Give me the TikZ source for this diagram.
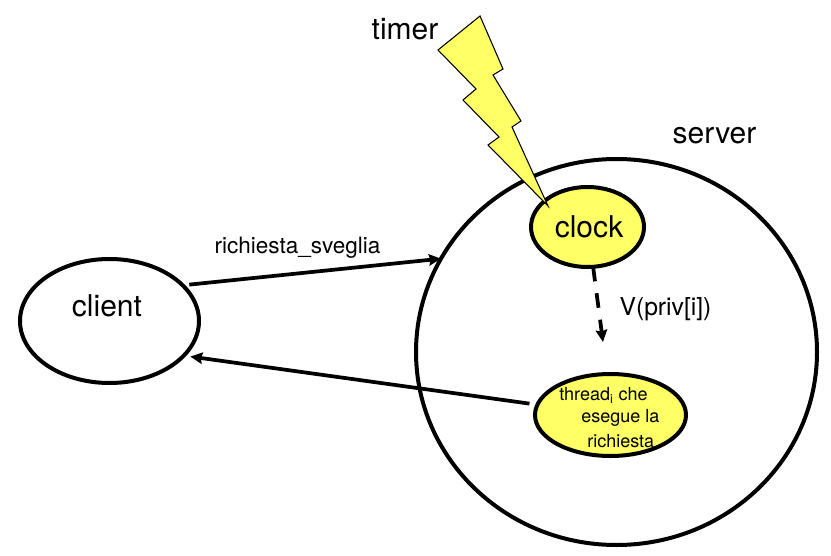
\documentclass[tikz,border=0pt]{standalone}
\usepackage{fontspec}
\setmainfont{TeX Gyre Heros}
\usetikzlibrary{shapes.geometric,arrows.meta}
\definecolor{boltYellow}{RGB}{255,255,102}
\tikzset{
    bubble/.style={draw, ellipse, line width=3pt, inner sep=0pt, outer sep=0pt},
    yellowBubble/.style={bubble, fill=boltYellow},
    msgArrow/.style={line width=2.8pt, -{Stealth[length=9pt,width=8.5pt,inset=1pt]}},
    bigLabel/.style={font=\fontsize{22.5}{24}\selectfont, inner sep=0pt},
    threadLabel/.style={font=\fontsize{13.5}{15}\selectfont, inner sep=0pt}
}
\begin{document}
\begin{tikzpicture}[x=0.75pt,y=-0.75pt]
	\useasboundingbox (0,0) rectangle (831,556);
	\node[bubble, minimum width=134.25pt, minimum height=93pt] (client) at (109.5,321) {};
	\node[bubble, minimum width=300.75pt, minimum height=289.5pt] (server) at (616.5,352) {};
	\node[yellowBubble, minimum width=84.75pt, minimum height=60pt] (clock) at (587.5,227) {};
	\node[yellowBubble, minimum width=113.25pt, minimum height=61.5pt] (thread) at (610.5,415) {};
	% saetta
	\draw[fill=boltYellow, line width=0.8pt, line join=miter] (480,16) -- (503,69) -- (493,75) -- (521,121) -- (512,127) -- (548,206) -- (488,145) -- (499,137) -- (463,100) -- (476,89) -- (438,50) -- cycle;
	\node[bigLabel] (timerLabel) at (405,29) {timer};
	\node[bigLabel] (serverLabel) at (714.5,135.5) {server};
	\node[bigLabel] (clockLabel) at (589,226.5) {clock};
	\node[bigLabel] (clientLabel) at (107,306) {client};
	\node[font=\fontsize{16.9}{18}\selectfont, inner sep=0pt] (sveglia) at (297.5,248) {richiesta\_sveglia};
	\node[font=\fontsize{18.5}{20}\selectfont, inner sep=0pt] (privLabel) at (665.5,309) {V(priv[i])};
	\node[threadLabel, anchor=west] (threadA) at (559,395) {thread\textsubscript{i} che};
	\node[threadLabel, anchor=west] (threadB) at (581,418) {esegue la};
	\node[threadLabel, anchor=west] (threadC) at (587,441) {richiesta};
	\coordinate (wake) at (603,342);
	\draw[msgArrow, shorten <=5pt] (client.26) -- (server.152);
	\draw[msgArrow, shorten <=6pt, shorten >=5pt] (thread.172) -- (client.-25);
	\draw[msgArrow, dash pattern=on 11pt off 9pt] (clock.-82) -- (wake);
\end{tikzpicture}
\end{document}
